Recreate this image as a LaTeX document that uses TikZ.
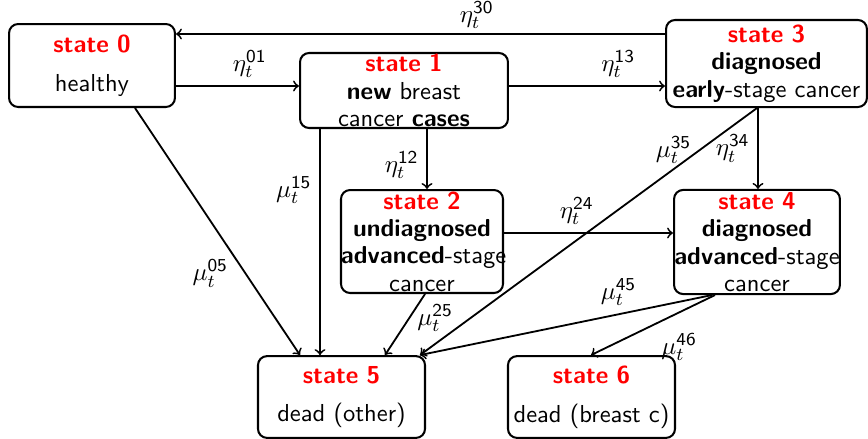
\documentclass[tikz,border=0pt]{standalone}
\def\stname#1{\textcolor{red}{\textbf{state #1}}}
\def\etarate#1{$\eta_t^{\mathsf{#1}}$}
\def\murate#1{$\mu_t^{\mathsf{#1}}$}
\usepackage{tikz}

\begin{document}
\begin{tikzpicture}
[x=0.44pt,y=-0.44pt,
 every node/.style={font=\sffamily\fontsize{10.8pt}{12pt}\selectfont},
 statebox/.style={draw,line width=0.9pt,rounded corners=4pt,align=center,inner sep=0pt},
 trans/.style={->,line width=0.8pt}]
\useasboundingbox (0,0) rectangle (868,439);

\node[statebox,text width=73pt,minimum height=36.5pt] (s0) at (92,65.5)
  {\stname{0}\\[5pt]healthy};
\node[statebox,text width=91.5pt,minimum height=33pt] (s1) at (404,90.5)
  {\stname{1}\\\textbf{new} breast\\cancer \textbf{cases}};
\node[statebox,text width=71.3pt,minimum height=45.3pt] (s2) at (422,241.5)
  {\stname{2}\\\textbf{undiagnosed}\\\mbox{\textbf{advanced}-stage}\\cancer};
\node[statebox,text width=88.4pt,minimum height=38.3pt] (s3) at (766.5,63.5)
  {\stname{3}\\\textbf{diagnosed}\\\textbf{early}-stage cancer};
\node[statebox,text width=73pt,minimum height=45.8pt] (s4) at (757,242)
  {\stname{4}\\\textbf{diagnosed}\\\mbox{\textbf{advanced}-stage}\\cancer};
\node[statebox,text width=73.5pt,minimum height=36pt] (s5) at (341.5,397)
  {\stname{5}\\[5pt]dead (other)};
\node[statebox,text width=73.5pt,minimum height=36pt] (s6) at (591.5,397)
  {\stname{6}\\[5pt]dead (breast c)};

\draw[trans] (s3.west |- 0,34) -- node[above=-1.5pt,pos=0.385] {\etarate{30}} (s0.east |- 0,34);
\draw[trans] (s0.east |- 0,86) -- node[above,pos=0.6] {\etarate{01}} (s1.west |- 0,86);
\draw[trans] (s1.east |- 0,86) -- node[above,pos=0.7] {\etarate{13}} (s3.west |- 0,86);
\draw[trans] (s1.south -| 427,0) -- node[left,pos=0.6] {\etarate{12}} (s2.north -| 427,0);
\draw[trans] (s1.south -| 320,0) -- node[left,pos=0.27] {\murate{15}} (s5.north -| 320,0);
\draw[trans] (s0.south -| 135,0) -- node[left=4pt,pos=0.67] {\murate{05}} (s5.north -| 300,0);
\draw[trans] (s2.east |- 0,233) -- node[above,pos=0.43] {\etarate{24}} (s4.west |- 0,233);
\draw[trans] (s3.south -| 758,0) -- node[left] {\etarate{34}} (s4.north -| 758,0);
\draw[trans] (s3.south -| 757,0) -- node[left,pos=0.17] {\murate{35}} (s5.north -| 420,0);
\draw[trans] (s2.south -| 425,0) -- node[right,pos=0.4] {\murate{25}} (s5.north -| 385,0);
\draw[trans] (s4.south -| 712,0) -- node[above,pos=0.32] {\murate{45}} (s5.north -| 420,0);
\draw[trans] (s4.south -| 715,0) -- node[below right,pos=0.5] {\murate{46}} (s6.north -| 591,0);
\end{tikzpicture}
\end{document}
